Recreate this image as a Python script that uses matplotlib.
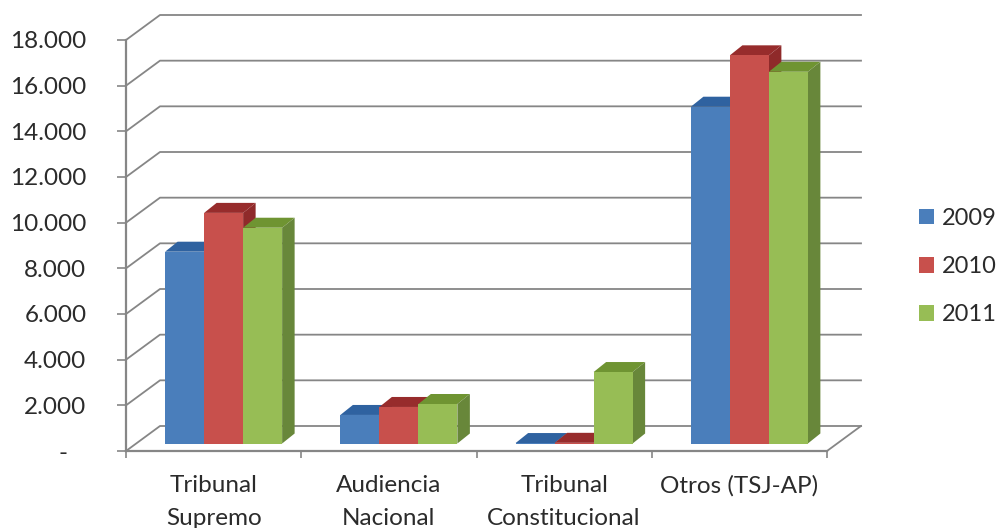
import numpy as np
import matplotlib.pyplot as plt
from matplotlib.patches import Patch, Polygon

plt.rcParams["font.family"] = ["Lato", "DejaVu Sans"]

categories = ["Tribunal\nSupremo", "Audiencia\nNacional", "Tribunal\nConstitucional", "Otros (TSJ-AP)"]
years = ["2009", "2010", "2011"]
v2009 = [8400, 1250, 20, 14750]
v2010 = [10100, 1600, 30, 17000]
v2011 = [9450, 1730, 3130, 16280]
y_ticks = [0, 2000, 4000, 6000, 8000, 10000, 12000, 14000, 16000, 18000]
y_labels = ["-   ", "2.000", "4.000", "6.000", "8.000", "10.000", "12.000", "14.000", "16.000", "18.000"]

series = [v2009, v2010, v2011]
front = ["#4a7ebb", "#c8504c", "#97bd55"]
top = ["#2f62a0", "#972c2c", "#6f9432"]
side = ["#2c5a94", "#8f2a2a", "#68873a"]
text_col = "#2b2b2b"
grid_col = "#868686"

W, H = 996, 528
fig = plt.figure(figsize=(W / 100, H / 100), dpi=100)
ax = fig.add_axes([126 / W, 1 - 451 / H, (827 - 126) / W, (451 - 40) / H])
ax.set_xlim(0, 4)
ax.set_ylim(0, 18000)

# pixel sizes of the fake 3d depth, turned into data units
px_x = 4 / (827 - 126)
px_y = 18000 / (451 - 40)
wall_dx, wall_dy = 34 * px_x, 25 * px_y
base_dx, base_dy = 10 * px_x, 7.5 * px_y
bar_dx, bar_dy = 12.5 * px_x, 10 * px_y
bar_w = 39 * px_x

# back wall gridlines and floor
for t in y_ticks:
    ax.plot([0, wall_dx, 4 + wall_dx], [t, t + wall_dy, t + wall_dy],
            color=grid_col, lw=1.3, clip_on=False, zorder=1)
ax.plot([4, 4 + wall_dx], [0, wall_dy], color=grid_col, lw=1.3, clip_on=False, zorder=1)

for i in range(len(categories)):
    for j in range(len(series)):
        v = series[j][i]
        x0 = i + 0.5 + base_dx + (j - 1.5) * bar_w
        x1 = x0 + bar_w
        y0 = base_dy
        y1 = base_dy + v
        z = 3 + i + j / 10
        ax.add_patch(Polygon([(x0, y1), (x1, y1), (x1 + bar_dx, y1 + bar_dy), (x0 + bar_dx, y1 + bar_dy)],
                             fc=top[j], ec="none", clip_on=False, zorder=z))
        ax.add_patch(Polygon([(x1, y0), (x1 + bar_dx, y0 + bar_dy), (x1 + bar_dx, y1 + bar_dy), (x1, y1)],
                             fc=side[j], ec="none", clip_on=False, zorder=z))
        ax.bar(x0, v, bar_w, bottom=y0, align="edge", color=front[j], zorder=z, clip_on=False)

for s in ["top", "right"]:
    ax.spines[s].set_visible(False)
for s in ["left", "bottom"]:
    ax.spines[s].set_color(grid_col)
    ax.spines[s].set_linewidth(1.6)
    ax.spines[s].set_zorder(2)

ax.set_yticks(y_ticks)
ax.set_yticklabels(y_labels, fontsize=17.5, color=text_col)
ax.tick_params(axis="y", length=6.5, width=1.2, color=grid_col, pad=22)

ax.set_xticks(range(5))
ax.set_xticklabels([])
ax.set_xticks(np.arange(len(categories)) + 0.5, minor=True)
ax.set_xticklabels(categories, minor=True, fontsize=17.5, color=text_col, linespacing=1.7)
ax.tick_params(axis="x", which="major", length=5, width=1.2, color=grid_col)
ax.tick_params(axis="x", which="minor", length=0, pad=17)

handles = [Patch(fc=front[j], ec="none", label=years[j]) for j in range(3)]
fig.legend(handles=handles, loc="center left", bbox_to_anchor=(919 / W, 1 - 266.5 / H), frameon=False,
           fontsize=17, labelcolor=text_col, handlelength=0.65, handleheight=0.65, handletextpad=0.3,
           labelspacing=1.15, borderpad=0, borderaxespad=0)

fig.savefig("out.png", dpi=100)
